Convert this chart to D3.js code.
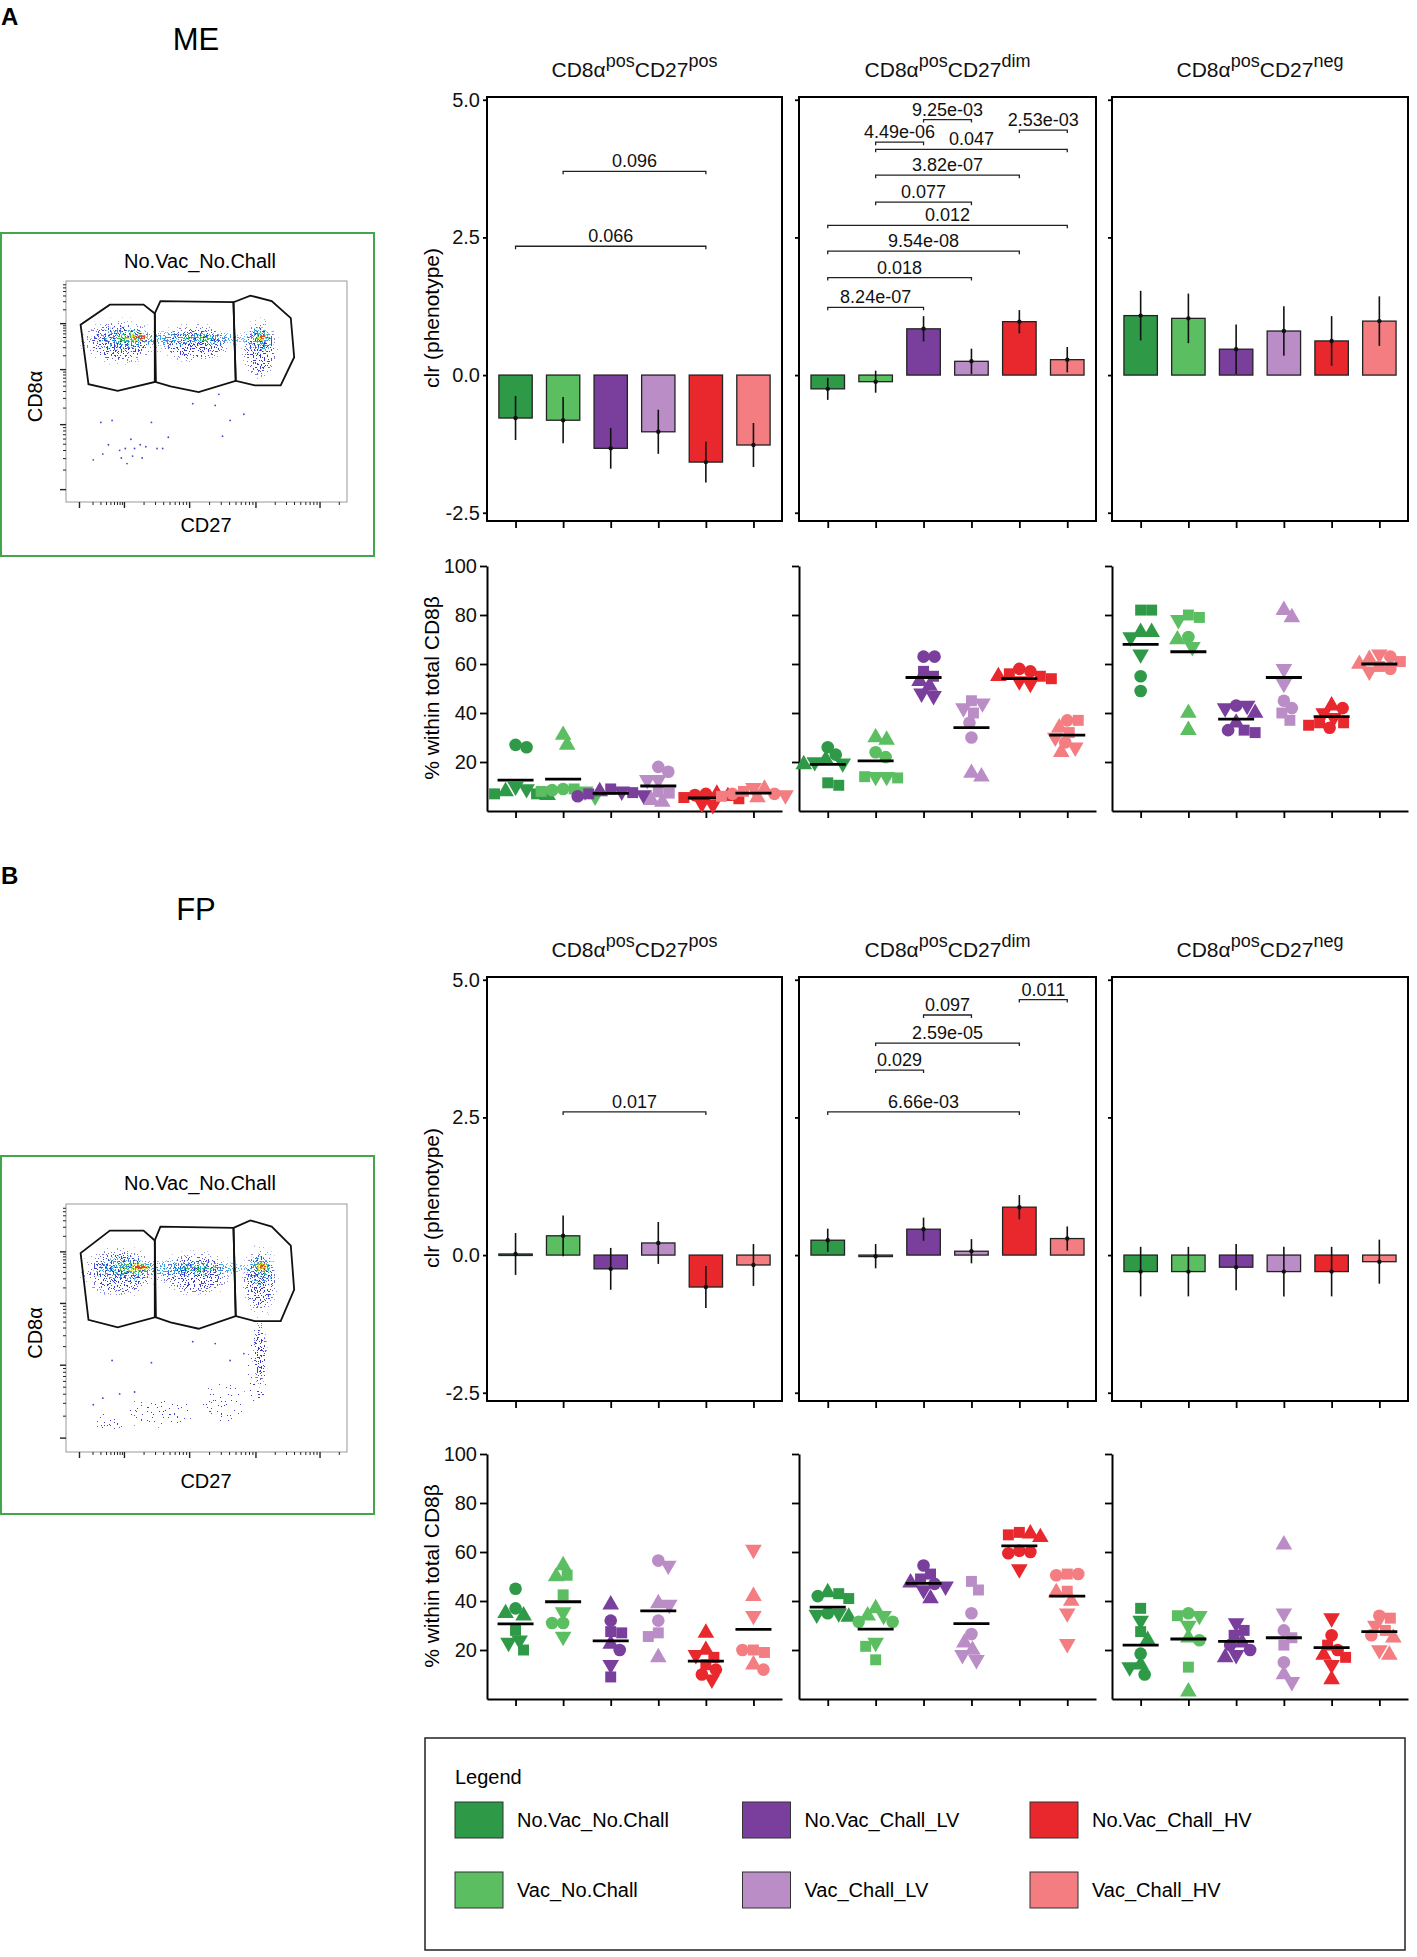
<!DOCTYPE html>
<html>
<head>
<meta charset="utf-8">
<script src="https://cdn.jsdelivr.net/npm/d3@7/dist/d3.min.js"></script>
<style>
  body { margin: 0; background: #fff; }
  svg { display: block; font-family: "Liberation Sans", Arial, sans-serif; }
</style>
</head>
<body>
<svg id="figure" width="1417" height="1957"></svg>
<script>
// ---- data -------------------------------------------------------------
const groups = ['No.Vac_No.Chall', 'Vac_No.Chall', 'No.Vac_Chall_LV', 'Vac_Chall_LV', 'No.Vac_Chall_HV', 'Vac_Chall_HV']
const colors = ['#2e9a48', '#5bbf61', '#7a3f9c', '#bb8dc7', '#e8282d', '#f37d80']
const subsets = ['pos', 'dim', 'neg']
const clrTicks = [-2.5, 0, 2.5, 5]
const pctTicks = [20, 40, 60, 80, 100]

// clr(phenotype): mean and error half-width per subset x group
const clrME = [[-0.78, -0.82, -1.33, -1.03, -1.58, -1.27], [-0.25, -0.12, 0.84, 0.25, 0.97, 0.28], [1.08, 1.03, 0.47, 0.8, 0.62, 0.98]]
const errME = [[0.4, 0.42, 0.37, 0.4, 0.37, 0.4], [0.2, 0.2, 0.23, 0.23, 0.21, 0.23], [0.45, 0.45, 0.45, 0.45, 0.45, 0.45]]
const clrFP = [[0.02, 0.35, -0.25, 0.22, -0.58, -0.18], [0.27, -0.02, 0.47, 0.07, 0.87, 0.3], [-0.3, -0.3, -0.22, -0.3, -0.3, -0.12]]
const errFP = [[0.38, 0.37, 0.38, 0.38, 0.38, 0.38], [0.21, 0.22, 0.21, 0.22, 0.22, 0.22], [0.45, 0.45, 0.42, 0.45, 0.45, 0.4]]

// significance brackets: [from group, to group, label, clr level]
const bracketsME = [
  [[1, 4, '0.096', 3.7], [0, 4, '0.066', 2.34]],
  [[0, 2, '8.24e-07', 1.23], [0, 3, '0.018', 1.77], [0, 4, '9.54e-08', 2.25], [0, 5, '0.012', 2.72], [1, 3, '0.077', 3.14],
    [1, 4, '3.82e-07', 3.63], [1, 5, '0.047', 4.1], [1, 2, '4.49e-06', 4.23], [2, 3, '9.25e-03', 4.64], [4, 5, '2.53e-03', 4.45]],
  []
]
const bracketsFP = [
  [[1, 4, '0.017', 2.6]],
  [[0, 4, '6.66e-03', 2.6], [1, 2, '0.029', 3.36], [1, 4, '2.59e-05', 3.85], [2, 3, '0.097', 4.36], [4, 5, '0.011', 4.64]],
  []
]

// % within total CD8b, per animal: [shape, value]  (c circle, s square, u triangle, d inverted triangle)
const dotsME = [
  [
    [['c', 27], ['c', 26], ['d', 10], ['s', 7], ['u', 6.5], ['s', 7], ['u', 8], ['d', 9]],
    [['u', 31], ['u', 27], ['d', 8], ['c', 9], ['c', 8.5], ['d', 6], ['s', 9], ['s', 8]],
    [['s', 9], ['d', 8], ['c', 6], ['s', 7], ['d', 6.5], ['u', 8], ['c', 5.5], ['s', 7.5]],
    [['c', 16], ['c', 18], ['d', 12.7], ['d', 12.7], ['s', 7.8], ['s', 7.3], ['u', 3.7], ['u', 4.4]],
    [['c', 7], ['c', 6.5], ['d', 3], ['d', 2.5], ['s', 5], ['s', 5.5], ['u', 6], ['u', 7]],
    [['d', 9.5], ['s', 8], ['u', 9], ['c', 7], ['s', 6], ['c', 7], ['d', 6.5], ['u', 5.5]]
  ],
  [
    [['c', 26], ['c', 23], ['u', 21], ['d', 19.5], ['u', 19], ['d', 20], ['s', 10.5], ['s', 11.5]],
    [['u', 30], ['u', 29], ['c', 24], ['c', 22], ['s', 13.5], ['d', 14], ['d', 14], ['s', 14]],
    [['c', 63], ['c', 63], ['s', 57], ['s', 55], ['u', 53], ['u', 51], ['d', 48], ['d', 47]],
    [['s', 45], ['d', 44], ['d', 42], ['c', 36], ['c', 30], ['s', 40], ['u', 14], ['u', 15.5]],
    [['c', 58], ['c', 57], ['s', 56], ['s', 55], ['d', 53], ['u', 55], ['d', 52], ['s', 54]],
    [['c', 37], ['s', 37], ['u', 34], ['s', 32], ['d', 30], ['c', 28], ['u', 24], ['d', 26]]
  ],
  [
    [['s', 82], ['s', 82], ['u', 73], ['d', 71], ['u', 73], ['d', 64], ['c', 55], ['c', 49]],
    [['s', 80], ['d', 78], ['s', 79], ['u', 70], ['c', 71], ['d', 67], ['u', 40], ['u', 33]],
    [['c', 43], ['d', 43], ['d', 42], ['u', 40], ['s', 33], ['s', 32], ['u', 36], ['c', 33]],
    [['u', 82], ['u', 79], ['d', 58], ['d', 52], ['c', 45], ['c', 42], ['s', 40], ['s', 37]],
    [['u', 43], ['c', 42], ['d', 40], ['s', 36], ['s', 35], ['c', 34], ['d', 38], ['s', 36]],
    [['d', 64], ['c', 63], ['s', 61], ['u', 62], ['s', 59], ['c', 58], ['d', 57], ['u', 60]]
  ]
]
const meansME = [[12.6, 13.0, 7.2, 10.2, 5.3, 7.3], [19, 20.5, 54.5, 34, 54, 31], [68, 65, 37.5, 54.5, 38.5, 60]]

const dotsFP = [
  [
    [['c', 45], ['c', 37], ['u', 35], ['u', 34], ['s', 28], ['d', 24], ['d', 23], ['s', 20]],
    [['u', 54.5], ['s', 50.5], ['u', 50], ['s', 42.5], ['d', 35.5], ['c', 31], ['c', 31], ['d', 25.5]],
    [['u', 38.5], ['c', 32], ['s', 27.5], ['s', 27], ['u', 22.5], ['c', 20], ['d', 14], ['s', 9]],
    [['c', 56.5], ['d', 54.5], ['d', 38.5], ['u', 39], ['c', 32], ['s', 27], ['s', 25.5], ['u', 17]],
    [['u', 27], ['u', 20], ['d', 18], ['s', 17], ['s', 14], ['c', 12], ['c', 10], ['d', 8]],
    [['d', 61], ['u', 42], ['d', 34], ['s', 20], ['c', 20], ['s', 19], ['u', 14], ['c', 12]]
  ],
  [
    [['s', 43], ['s', 41], ['u', 43.5], ['c', 42], ['c', 35], ['d', 34.5], ['u', 33.5], ['d', 35]],
    [['u', 37], ['d', 34], ['u', 34], ['c', 31.5], ['c', 31.5], ['d', 23], ['s', 21.5], ['s', 16]],
    [['c', 54.5], ['s', 51], ['s', 49], ['u', 47.5], ['d', 46], ['d', 44.5], ['u', 41], ['c', 47]],
    [['s', 48], ['s', 44.5], ['c', 35], ['c', 26.5], ['u', 23], ['u', 20], ['d', 18], ['d', 16]],
    [['s', 68], ['s', 67], ['u', 66], ['u', 67.5], ['c', 60], ['c', 59.5], ['d', 53], ['c', 60.5]],
    [['s', 51], ['c', 50.5], ['c', 51], ['s', 44], ['u', 43.5], ['d', 35], ['d', 22.5], ['u', 40]]
  ],
  [
    [['s', 37], ['d', 32], ['s', 27.5], ['u', 24], ['c', 18.5], ['u', 14], ['c', 10], ['d', 13]],
    [['d', 34], ['c', 35], ['s', 34], ['u', 25], ['c', 24], ['s', 13], ['u', 3], ['d', 30]],
    [['d', 31], ['s', 28], ['s', 26], ['c', 22], ['u', 23], ['c', 20], ['d', 18], ['u', 17]],
    [['u', 63], ['d', 35], ['c', 28], ['s', 25], ['s', 22], ['c', 15], ['u', 10], ['d', 7]],
    [['d', 33], ['c', 26], ['s', 22], ['c', 20], ['u', 18], ['s', 17], ['d', 14], ['u', 8]],
    [['c', 34], ['s', 33], ['d', 30], ['s', 28], ['u', 25], ['c', 26], ['d', 20], ['u', 18]]
  ]
]
const meansFP = [[30.7, 39.7, 23.7, 36, 15.5, 28.4], [37.5, 28.5, 47.2, 30.8, 62.5, 42], [22, 24.5, 23.5, 25, 21, 27.5]]

// flow plot (channel units 0-1000): gates, density regions [level, cx, cy, rx, ry], sparse events
const gates = [
  [[52, 802], [80, 533], [184, 503], [316, 543], [316, 853], [276, 893], [156, 893]],
  [[316, 853], [336, 909], [596, 904], [604, 548], [472, 497], [372, 523], [320, 543]],
  [[596, 904], [656, 934], [732, 909], [800, 832], [812, 655], [764, 528], [672, 528], [604, 548]]
]
const bandBlobs = [
  [1, 190, 725, 165, 125], [1, 460, 720, 165, 110], [1, 690, 690, 80, 170],
  [2, 400, 740, 370, 42], [2, 205, 738, 130, 68], [2, 690, 730, 62, 85],
  [3, 235, 742, 95, 36], [3, 470, 742, 85, 20], [3, 695, 742, 40, 45],
  [4, 252, 744, 62, 24], [4, 698, 746, 26, 28],
  [5, 262, 745, 34, 12], [5, 700, 748, 14, 14]
]
const blobsME = bandBlobs
const blobsFP = [
  [0, 680, 330, 55, 250], [0, 560, 200, 120, 130], [0, 330, 160, 210, 90], [0, 150, 120, 90, 60],
  [1, 690, 400, 32, 170],
  ...bandBlobs
]
const eventsME = [[97, 191], [131, 217], [151, 259], [191, 234], [197, 199], [231, 284], [244, 242], [264, 259], [284, 250],
  [271, 199], [304, 360], [164, 369], [124, 360], [324, 242], [344, 242], [364, 293], [451, 445], [531, 437], [544, 487],
  [584, 369], [557, 298], [633, 397], [217, 174], [237, 208], [211, 242]]
const eventsFP = [[97, 191], [131, 217], [191, 234], [244, 242], [304, 360], [164, 369], [451, 445], [531, 437], [584, 369], [633, 397]]
const flowTicksX = [48, 208, 440, 676, 904]
const flowTicksY = [56, 350, 599, 807]

// ---- drawing ----------------------------------------------------------
const font = '"Liberation Sans", Arial, sans-serif'
const svg = d3.select('#figure')
const defs = svg.append('defs')
const cols = [[487, 782], [799, 1096], [1112, 1408]]
const clrDomain = [-2.65, 5.05]

// speckle texture for the cytometry density: noise thresholded inside each region
const densityLevels = [
  { color: '#3535c8', seed: 11, threshold: 0.66 },
  { color: '#2d2dc4', seed: 3, threshold: 0.57 },
  { color: '#2a9be4', seed: 5, threshold: 0.55 },
  { color: '#35c04a', seed: 7, threshold: 0.53 },
  { color: '#ece030', seed: 9, threshold: 0.5 },
  { color: '#e83a20', seed: 13, threshold: 0.45 }
]
const fade = defs.append('radialGradient').attr('id', 'blobFade')
fade.append('stop').attr('offset', '0%').attr('stop-color', '#fff').attr('stop-opacity', 1)
fade.append('stop').attr('offset', '55%').attr('stop-color', '#fff').attr('stop-opacity', 0.9)
fade.append('stop').attr('offset', '100%').attr('stop-color', '#fff').attr('stop-opacity', 0)
densityLevels.forEach((lv, i) => {
  const f = defs.append('filter').attr('id', `speck${i}`).attr('color-interpolation-filters', 'sRGB')
  f.append('feTurbulence').attr('type', 'fractalNoise').attr('baseFrequency', 0.7).attr('numOctaves', 1)
    .attr('seed', lv.seed).attr('result', 'noise')
  f.append('feColorMatrix').attr('in', 'noise').attr('type', 'matrix')
    .attr('values', '0 0 0 0 0  0 0 0 0 0  0 0 0 0 0  1 0 0 0 0').attr('result', 'n')
  f.append('feComposite').attr('in', 'n').attr('in2', 'SourceAlpha').attr('operator', 'arithmetic')
    .attr('k1', 0).attr('k2', 1).attr('k3', 0.2).attr('k4', -0.2).attr('result', 'm')
  f.append('feComponentTransfer').attr('in', 'm').attr('result', 'mask')
    .append('feFuncA').attr('type', 'discrete').attr('tableValues', d3.range(40).map(k => k / 40 >= lv.threshold ? 1 : 0).join(' '))
  f.append('feFlood').attr('flood-color', lv.color).attr('result', 'ink')
  f.append('feComposite').attr('in', 'ink').attr('in2', 'mask').attr('operator', 'in').attr('result', 'dots')
  f.append('feComposite').attr('in', 'dots').attr('in2', 'SourceAlpha').attr('operator', 'in')
})

const symbolFor = d => d3.symbol().type(d.shape === 'c' ? d3.symbolCircle : d.shape === 's' ? d3.symbolSquare : d3.symbolTriangle)
  .size(d.shape === 'c' ? 125 : 120)()

function styleAxis (sel, size) {
  sel.selectAll('.domain').attr('stroke', '#000').attr('stroke-width', 2)
  sel.selectAll('.tick line').attr('stroke', '#000').attr('stroke-width', 1.8)
  sel.selectAll('.tick text').attr('fill', '#111').style('font-size', size).style('font-family', font)
}

function title (g, cx, y, subset) {
  const t = g.append('text').attr('x', cx).attr('y', y).attr('text-anchor', 'middle').style('font-size', '21px').attr('fill', '#111')
  t.append('tspan').text('CD8α')
  t.append('tspan').attr('dy', -10).style('font-size', '18px').text('pos')
  t.append('tspan').attr('dy', 10).text('CD27')
  t.append('tspan').attr('dy', -10).style('font-size', '18px').text(subset)
}

function swarm (points, y, minDist) {
  const placed = []
  points.map(([shape, v]) => ({ shape, v, py: y(v) }))
    .sort((a, b) => b.v - a.v)
    .forEach((p, i) => {
      const flip = i % 2 ? -1 : 1
      for (let k = 0; k < 80; k++) {
        const dx = flip * (k % 2 ? -1 : 1) * Math.ceil(k / 2)
        if (placed.every(q => (dx - q.dx) ** 2 + (p.py - q.py) ** 2 >= minDist ** 2)) {
          placed.push({ ...p, dx })
          break
        }
      }
    })
  return placed
}

function barPanel (g, s, dy, clr, err, brackets) {
  const [left, right] = cols[s]
  const top = dy + 97
  const bottom = dy + 521
  const x = d3.scalePoint().domain(d3.range(groups.length)).range([left, right]).padding(0.6)
  const y = d3.scaleLinear().domain(clrDomain).range([bottom, top])
  const bw = x.step() * 0.7

  g.append('g').attr('transform', `translate(${left},0)`)
    .call(d3.axisLeft(y).tickValues(clrTicks).tickSize(4).tickSizeOuter(0).tickFormat(s === 0 ? d => d.toFixed(1) : ''))
    .call(a => a.select('.domain').remove())
    .call(a => styleAxis(a, '20px'))
  g.append('g').attr('transform', `translate(0,${bottom})`)
    .call(d3.axisBottom(x).tickSize(7).tickSizeOuter(0).tickFormat(''))
    .call(a => a.select('.domain').remove())
    .call(a => styleAxis(a, '20px'))

  g.append('g').selectAll('rect').data(clr).join('rect')
    .attr('x', (d, i) => x(i) - bw / 2)
    .attr('y', d => y(Math.max(0, d)))
    .attr('width', bw)
    .attr('height', d => Math.max(1.5, Math.abs(y(d) - y(0))))
    .attr('fill', (d, i) => colors[i])
    .attr('stroke', '#222').attr('stroke-width', 1.3)

  const eb = g.append('g').selectAll('g').data(clr).join('g')
  eb.append('line')
    .attr('x1', (d, i) => x(i)).attr('x2', (d, i) => x(i))
    .attr('y1', (d, i) => y(d - err[s][i])).attr('y2', (d, i) => y(d + err[s][i]))
    .attr('stroke', '#111').attr('stroke-width', 1.6)
  eb.append('circle').attr('cx', (d, i) => x(i)).attr('cy', d => y(d)).attr('r', 2.2).attr('fill', '#111')

  const br = g.append('g').selectAll('g').data(brackets).join('g')
  br.append('path')
    .attr('d', ([a, b, , v]) => `M${x(a)},${y(v) + 3}V${y(v)}H${x(b)}V${y(v) + 3}`)
    .attr('fill', 'none').attr('stroke', '#222').attr('stroke-width', 1.3)
  br.append('text')
    .attr('x', ([a, b]) => (x(a) + x(b)) / 2).attr('y', ([, , , v]) => y(v) - 4)
    .attr('text-anchor', 'middle').style('font-size', '18px').attr('fill', '#111')
    .text(d => d[2])

  g.append('rect').attr('x', left).attr('y', top).attr('width', right - left).attr('height', bottom - top)
    .attr('fill', 'none').attr('stroke', '#000').attr('stroke-width', 2)
}

function dotPanel (g, s, dy, dots, means) {
  const [left, right] = cols[s]
  const x = d3.scalePoint().domain(d3.range(groups.length)).range([left, right]).padding(0.6)
  const y = d3.scaleLinear().domain([0, 100]).range([dy + 811, dy + 566])

  g.append('g').attr('transform', `translate(${left},0)`)
    .call(d3.axisLeft(y).tickValues(pctTicks).tickSize(7).tickSizeOuter(0).tickFormat(s === 0 ? d3.format('d') : ''))
    .call(a => styleAxis(a, '20px'))
  g.append('g').attr('transform', `translate(0,${y(0)})`)
    .call(d3.axisBottom(x).tickSize(7).tickSizeOuter(0).tickFormat(''))
    .call(a => styleAxis(a, '20px'))

  dots[s].forEach((pts, i) => {
    const gg = g.append('g')
    gg.selectAll('path').data(swarm(pts, y, 10.5)).join('path')
      .attr('d', symbolFor)
      .attr('transform', d => `translate(${x(i) + d.dx},${d.py}) rotate(${d.shape === 'd' ? 180 : 0})`)
      .attr('fill', colors[i])
    gg.append('line')
      .attr('x1', x(i) - 18).attr('x2', x(i) + 18)
      .attr('y1', y(means[s][i])).attr('y2', y(means[s][i]))
      .attr('stroke', '#000').attr('stroke-width', 2.8)
  })
}

function flowPlot (box, blobs, events) {
  const g = svg.append('g')
  g.append('rect').attr('x', 1).attr('y', box.top).attr('width', 373).attr('height', box.height)
    .attr('fill', 'none').attr('stroke', '#43a64a').attr('stroke-width', 2)
  g.append('text').attr('x', 200).attr('y', box.titleY).attr('text-anchor', 'middle').style('font-size', '20px').text('No.Vac_No.Chall')

  const fx = d3.scaleLinear().domain([0, 1000]).range([66, 347])
  const fy = d3.scaleLinear().domain([0, 1000]).range([box.plotBottom, box.plotTop])
  const clipId = `flowclip${box.top}`
  defs.append('clipPath').attr('id', clipId).append('rect')
    .attr('x', fx(0)).attr('y', fy(1000)).attr('width', fx(1000) - fx(0)).attr('height', fy(0) - fy(1000))

  const body = g.append('g').attr('clip-path', `url(#${clipId})`)
  body.selectAll('ellipse').data(blobs).join('ellipse')
    .attr('cx', d => fx(d[1])).attr('cy', d => fy(d[2]))
    .attr('rx', d => fx(d[3]) - fx(0)).attr('ry', d => fy(0) - fy(d[4]))
    .attr('fill', 'url(#blobFade)')
    .attr('filter', d => `url(#speck${d[0]})`)
  body.selectAll('circle').data(events).join('circle')
    .attr('cx', d => fx(d[0])).attr('cy', d => fy(d[1])).attr('r', 0.9).attr('fill', '#4545cc')

  g.append('rect').attr('x', fx(0)).attr('y', fy(1000)).attr('width', fx(1000) - fx(0)).attr('height', fy(0) - fy(1000))
    .attr('fill', 'none').attr('stroke', '#999').attr('stroke-width', 1)

  g.append('g').selectAll('path').data(gates).join('path')
    .attr('d', d3.line().x(d => fx(d[0])).y(d => fy(d[1])).curve(d3.curveLinearClosed))
    .attr('fill', 'none').attr('stroke', '#111').attr('stroke-width', 1.8)

  // logicle-like ticks: majors plus log-spaced minors
  const minors = majors => majors.flatMap((a, i) => {
    const b = i + 1 < majors.length ? majors[i + 1] : a + (a - majors[i - 1])
    return d3.range(2, 10).map(k => a + (b - a) * Math.log10(k)).filter(v => v < 990)
  })
  const tx = g.append('g').attr('stroke', '#222')
  tx.selectAll('.mx').data(flowTicksX).join('line').attr('x1', fx).attr('x2', fx).attr('y1', fy(0)).attr('y2', fy(0) + 6).attr('stroke-width', 1.4)
  tx.selectAll('.nx').data(minors(flowTicksX)).join('line').attr('class', 'nx').attr('x1', fx).attr('x2', fx).attr('y1', fy(0)).attr('y2', fy(0) + 3).attr('stroke-width', 1)
  const ty = g.append('g').attr('stroke', '#222')
  ty.selectAll('.my').data(flowTicksY).join('line').attr('y1', fy).attr('y2', fy).attr('x1', fx(0)).attr('x2', fx(0) - 6).attr('stroke-width', 1.4)
  ty.selectAll('.ny').data(minors(flowTicksY)).join('line').attr('class', 'ny').attr('y1', fy).attr('y2', fy).attr('x1', fx(0)).attr('x2', fx(0) - 3).attr('stroke-width', 1)

  g.append('text').attr('transform', `translate(42,${(box.plotTop + box.plotBottom) / 2 + 5}) rotate(-90)`)
    .attr('text-anchor', 'middle').style('font-size', '20px').text('CD8α')
  g.append('text').attr('x', 206).attr('y', box.labelY).attr('text-anchor', 'middle').style('font-size', '20px').text('CD27')
}

const tissues = [
  {
    name: 'ME', letter: 'A', dy: 0, dotDy: 0, letterY: 25, nameY: 50,
    flow: { top: 233, height: 323, titleY: 268, plotTop: 281, plotBottom: 502, labelY: 532 },
    clr: clrME, err: errME, brackets: bracketsME, dots: dotsME, means: meansME, blobs: blobsME, events: eventsME
  },
  {
    name: 'FP', letter: 'B', dy: 880, dotDy: 888, letterY: 884, nameY: 920,
    flow: { top: 1156, height: 358, titleY: 1190, plotTop: 1204, plotBottom: 1452, labelY: 1488 },
    clr: clrFP, err: errFP, brackets: bracketsFP, dots: dotsFP, means: meansFP, blobs: blobsFP, events: eventsFP
  }
]

tissues.forEach(t => {
  svg.append('text').attr('x', 1).attr('y', t.letterY).style('font-size', '24px').style('font-weight', 'bold').text(t.letter)
  svg.append('text').attr('x', 196).attr('y', t.nameY).attr('text-anchor', 'middle').style('font-size', '31px').text(t.name)
  flowPlot(t.flow, t.blobs, t.events)

  const g = svg.append('g')
  subsets.forEach((sub, s) => {
    title(g, (cols[s][0] + cols[s][1]) / 2, t.dy + 77, sub)
    barPanel(g, s, t.dy, t.clr[s], t.err, t.brackets[s])
    dotPanel(g, s, t.dotDy, t.dots, t.means)
  })
  g.append('text').attr('transform', `translate(439,${t.dy + 318}) rotate(-90)`).attr('text-anchor', 'middle')
    .style('font-size', '21px').text('clr (phenotype)')
  g.append('text').attr('transform', `translate(439,${t.dotDy + 688}) rotate(-90)`).attr('text-anchor', 'middle')
    .style('font-size', '21px').text('% within total CD8β')
})

// legend
const legend = svg.append('g')
legend.append('rect').attr('x', 425).attr('y', 1738).attr('width', 980).attr('height', 212)
  .attr('fill', '#fff').attr('stroke', '#222').attr('stroke-width', 1.5)
legend.append('text').attr('x', 455).attr('y', 1784).style('font-size', '20px').text('Legend')
const lx = d3.scalePoint().domain([0, 1, 2]).range([455, 1030])
const ly = d3.scalePoint().domain([0, 1]).range([1802, 1872])
const item = legend.selectAll('g.item').data(groups).join('g').attr('class', 'item')
  .attr('transform', (d, i) => `translate(${lx(Math.floor(i / 2))},${ly(i % 2)})`)
item.append('rect').attr('width', 48).attr('height', 36).attr('fill', (d, i) => colors[i]).attr('stroke', '#333').attr('stroke-width', 1)
item.append('text').attr('x', 62).attr('y', 25).style('font-size', '20px').text(d => d)
</script>
</body>
</html>
